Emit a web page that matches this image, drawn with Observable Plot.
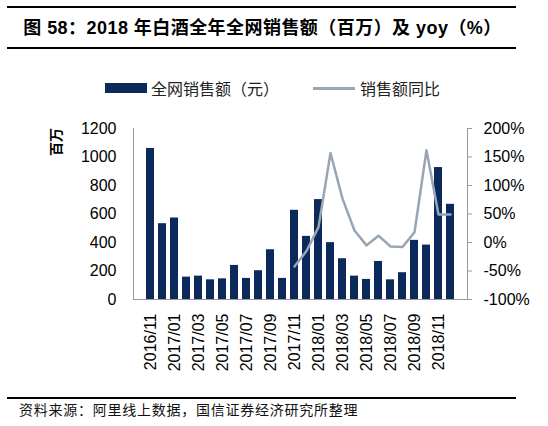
<!DOCTYPE html>
<html><head><meta charset="utf-8">
<script src="https://cdn.jsdelivr.net/npm/d3@7"></script>
<script src="https://cdn.jsdelivr.net/npm/@observablehq/plot@0.6"></script>
<style>
body{margin:0;background:#fff;}
#wrap{position:relative;width:548px;height:426px;overflow:hidden;font-family:"Liberation Sans",Arial,"Noto Sans CJK SC",sans-serif;color:#000;}
.rule{position:absolute;left:7px;width:509px;height:2px;background:#000;}
#title{position:absolute;left:0;width:525px;top:16px;text-align:center;font-size:18px;font-weight:bold;line-height:24px;white-space:nowrap;letter-spacing:0.45px;}
#legend{position:absolute;top:78px;left:105px;height:20px;font-size:16px;line-height:20px;color:#222;white-space:nowrap;font-family:"Noto Sans CJK SC",sans-serif;display:flex;align-items:center;}
#legend span.item{display:flex;align-items:center;}
.sw-bar{display:inline-block;width:42px;height:10px;background:#0b2a5b;margin-right:4px;}
.sw-line{display:inline-block;width:42px;height:3px;background:#98a5b5;margin-right:5px;}
#ylab{position:absolute;left:41px;top:134px;font-size:14px;font-weight:bold;transform:rotate(-90deg);transform-origin:center;font-family:"Noto Sans CJK SC",sans-serif;line-height:16px;}
#chart{position:absolute;left:0;top:110px;}
#source{position:absolute;left:19px;top:399px;font-size:14px;letter-spacing:0.75px;line-height:20px;white-space:nowrap;font-family:"Noto Sans CJK SC",serif;color:#111;}
</style></head><body>
<div id="wrap">
  <div class="rule" style="top:6px"></div>
  <div id="title">图 58：2018 年白酒全年全网销售额（百万）及 yoy（%）</div>
  <div class="rule" style="top:47px"></div>
  <div id="legend"><span class="item"><span class="sw-bar"></span>全网销售额（元）</span><span class="item" style="margin-left:34px"><span class="sw-line"></span>销售额同比</span></div>
  <div id="ylab">百万</div>
  <div id="chart"></div>
  <div class="rule" style="top:397px"></div>
  <div id="source">资料来源：阿里线上数据，国信证券经济研究所整理</div>
</div>
<script>
const months = ["2016/11","2016/12","2017/01","2017/02","2017/03","2017/04","2017/05","2017/06","2017/07","2017/08","2017/09","2017/10","2017/11","2017/12","2018/01","2018/02","2018/03","2018/04","2018/05","2018/06","2018/07","2018/08","2018/09","2018/10","2018/11","2018/12"];
const sales = [1060,532,572,157,164,138,145,239,148,202,349,148,626,443,701,399,286,164,141,267,138,188,415,382,926,668];
const yoy = [null,null,null,null,null,null,null,null,null,null,null,null,-42,-15,27,157,77,21,-5,12,-7,-8,18,162,49,49];
const leftTicks = [0,200,400,600,800,1000,1200];
const xTicks = months.filter((d,i)=>i%2===0);

const rows = months.map((m,i)=>({month:m, sales:sales[i], yoy:yoy[i]}));
const lineRows = rows.filter(d=>d.yoy!=null);
const toLeft = v => (v+100)*4; // map -100%..200% onto 0..1200

const chart = Plot.plot({
  width:548, height:280,
  marginTop:18, marginBottom:91, marginLeft:133, marginRight:81,
  style:{fontFamily:'"Liberation Sans",Arial,sans-serif', fontSize:"16px", color:"#000", background:"transparent"},
  x:{type:"band", domain:months, paddingInner:0.3, paddingOuter:0.15},
  y:{domain:[0,1200]},
  marks:[
    Plot.barY(rows,{x:"month", y:"sales", fill:"#0b2a5b"}),
    Plot.line(lineRows,{x:"month", y:d=>toLeft(d.yoy), stroke:"#98a5b5", strokeWidth:2.5, curve:"linear"}),
    Plot.frame({anchor:"left", stroke:"#999"}),
    Plot.frame({anchor:"right", stroke:"#999"}),
    Plot.frame({anchor:"bottom", stroke:"#999"}),
    Plot.axisY({anchor:"left", ticks:leftTicks, tickSize:0, tickPadding:17, fontSize:16, label:null, tickFormat:d=>String(d)}),
    Plot.axisY({anchor:"right", ticks:leftTicks, tickSize:4, tickPadding:12, stroke:"#999", fontSize:16, label:null, tickFormat:d=>(d/4-100)+"%"}),
    Plot.axisX({ticks:xTicks, tickRotate:-90, tickSize:0, tickPadding:14, fontSize:16, label:null})
  ]
});
document.getElementById("chart").appendChild(chart);
</script>
</body></html>
